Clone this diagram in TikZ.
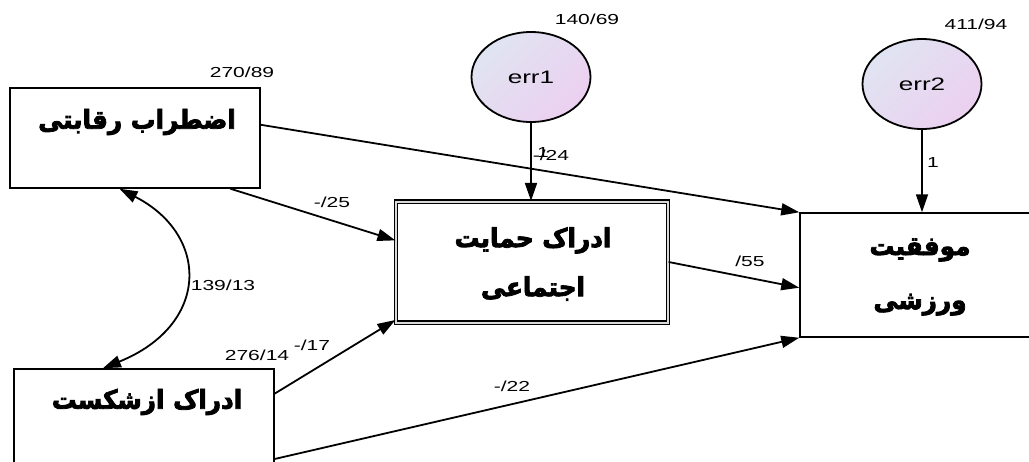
\documentclass[tikz,border=0pt]{standalone}
\usepackage{fontspec}
\setmainfont{Liberation Sans}
\newfontfamily\farsi[Script=Arabic,FakeStretch=0.95,FakeBold=3]{DejaVu Sans Bold}
\newfontfamily\numfont[FakeStretch=1.45]{Liberation Sans}
\TeXXeTstate=1
\usetikzlibrary{arrows.meta}
\usetikzlibrary{shapes.geometric}
\definecolor{errtop}{RGB}{224,228,242}
\definecolor{errbottom}{RGB}{236,208,240}

\tikzset{
  varbox/.style={draw, line width=1.5pt, minimum width=250pt, minimum height=100pt, inner sep=0pt},
  errnode/.style={draw, ellipse, line width=1.8pt, minimum width=119pt, minimum height=90pt,
    top color=errtop, bottom color=errbottom, shading angle=45,
    font=\numfont\fontsize{18}{20}\selectfont},
  arr/.style={line width=1.8pt, -{Triangle[length=18pt,width=12pt]}},
  fa/.style={font=\farsi\fontsize{26}{28}\selectfont, inner sep=0pt, align=center},
  num/.style={font=\numfont\fontsize{14.5}{16}\selectfont, inner sep=0pt}
}

\begin{document}
\begin{tikzpicture}[x=1pt,y=-1pt]
      \useasboundingbox (0,0) rectangle (1029,461);
      \clip (0,0) rectangle (1029,461);

      \node[varbox] (anxiety) at (135,138) {};
      \node[varbox, minimum width=272pt, minimum height=121pt, double, double distance=2pt, double=gray!30, line width=1.2pt] (support) at (532,262) {};
      \node[varbox, minimum width=240pt, minimum height=124pt] (success) at (920,275) {};
      \node[varbox, minimum width=260pt] (failure) at (144,419) {};

      \node[fa] (anxietytext) at (137,122) {\beginR اضطراب رقابتی\endR};
      \node[fa] (supporttext) at (533,264) {\beginR ادراک حمایت\endR\\[21pt]\beginR اجتماعی\endR};
      \node[fa] (successtext) at (920,277) {\beginR موفقیت\endR\\[26pt]\beginR ورزشی\endR};
      \node[fa] (failuretext) at (147,402) {\beginR ادراک ازشکست\endR};

      \node[errnode] (err1) at (531,77) {err1};
      \node[errnode] (err2) at (922,84) {err2};

      \draw[arr] (err1.south) -- (err1.south |- support.north);
      \draw[arr] (err2.south) -- (err2.south |- success.north);
      \draw[arr] (anxiety.6) -- (success.north west);
      \draw[arr] (anxiety.-28) -- (support.171);
      \draw[arr] (failure.11) -- (support.203);
      \draw[arr] (failure.-17) -- (success.south west);
      \draw[arr] (support.east) -- (success.186);
      \draw[line width=1.8pt, {Triangle[length=18pt,width=12pt]}-{Triangle[length=18pt,width=12pt]}]
        (anxiety.-107) .. controls (210,235) and (210,325) .. (failure.129);

      \node[num] (v1) at (242,72) {270/89};
      \node[num] (v2) at (587,19) {140/69};
      \node[num] (v3) at (976,24) {411/94};
      \node[num] (v4) at (257,355) {276/14};
      \node[num] (c1) at (223,285) {139/13};
      \node[num] (w1) at (543,153) {1};
      \node[num] (w2) at (551,155) {-/24};
      \node[num] (w3) at (933,163) {1};
      \node[num] (w4) at (332,202) {-/25};
      \node[num] (w5) at (312,345) {-/17};
      \node[num] (w6) at (512,386) {-/22};
      \node[num] (w7) at (750,261) {/55};

    \end{tikzpicture}
\end{document}
